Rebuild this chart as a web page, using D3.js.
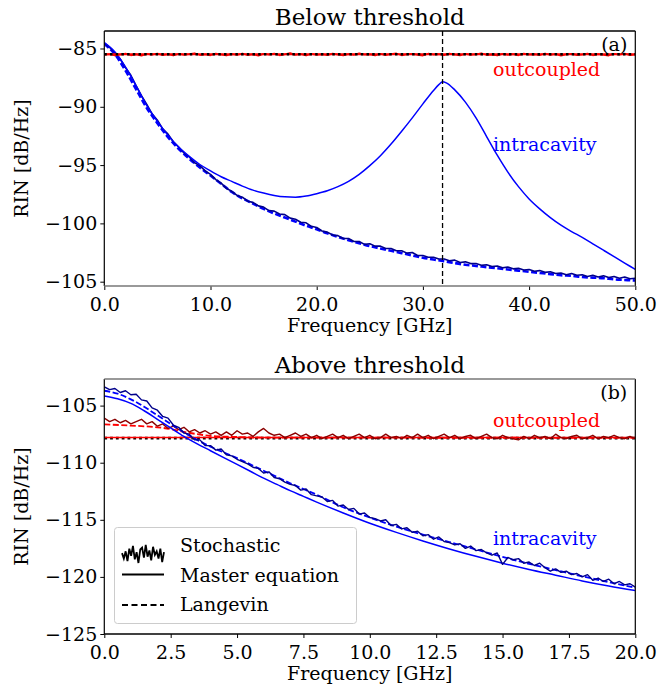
<!DOCTYPE html>
<html>
<head>
<meta charset="utf-8">
<script src="https://cdn.jsdelivr.net/npm/d3@7/dist/d3.min.js"></script>
<style>
  body { margin: 0; background: #fff; }
  svg text { font-family: 'DejaVu Serif', serif; }
</style>
</head>
<body>
<div class="chart"></div>
<script>
let d3 = window.d3;
let w = 659, h = 685;

/* ===== DATA: panel (a) below threshold ===== */

let ticksXA = [0, 10, 20, 30, 40, 50];
let ticksYA = [-105, -100, -95, -90, -85];
let resonanceA = 31.85;   // GHz, dashed vertical marker

// master equation, intracavity [GHz, dB/Hz]
let masterInA = [[0,-84.5],[1,-85.3],[2,-86.6],[3,-88.2],[4,-89.9],[5,-91.25],[6,-92.45],[7,-93.45],[8,-94.25],
  [9,-94.95],[10,-95.5],[11,-96.0],[12,-96.4],[13,-96.8],[14,-97.15],[15,-97.4],[16,-97.6],[17,-97.72],
  [18,-97.75],[19,-97.65],[20,-97.45],[21,-97.2],[22,-96.85],[23,-96.4],[24,-95.8],[25,-95.05],
  [26,-94.2],[27,-93.2],[28,-92.1],[29,-90.95],[30,-89.75],[31,-88.6],[31.5,-88.1],[31.85,-87.86],
  [32.2,-87.95],[33,-88.55],[34,-89.6],[35,-90.95],[36,-92.55],[37,-94.15],[38,-95.6],[39,-96.85],[40,-97.9],
  [41,-98.75],[42,-99.5],[43,-100.15],[44,-100.7],[45,-101.2],[46,-101.75],[47,-102.3],[48,-102.85],
  [49,-103.4],[50,-103.95]];

// Langevin, intracavity
let langevinInA = [[0,-84.6],[1,-85.5],[2,-86.9],[3,-88.5],[4,-90.1],[5,-91.4],[6,-92.6],[7,-93.6],[8,-94.45],
  [9,-95.2],[10,-95.9],[11,-96.6],[12,-97.3],[13,-97.85],[14,-98.3],[15,-98.75],[16,-99.15],[17,-99.5],
  [18,-99.85],[19,-100.2],[20,-100.5],[21,-100.85],[22,-101.15],[23,-101.45],[24,-101.7],[25,-101.95],
  [26,-102.15],[27,-102.35],[28,-102.55],[29,-102.75],[30,-102.95],[31,-103.1],[32,-103.25],[33,-103.4],
  [34,-103.55],[35,-103.65],[36,-103.75],[37,-103.85],[38,-103.95],[39,-104.05],[40,-104.15],[41,-104.25],
  [42,-104.35],[43,-104.45],[44,-104.5],[45,-104.6],[46,-104.65],[47,-104.7],[48,-104.8],[49,-104.85],[50,-104.9]];

// stochastic runs, one value every stepA GHz from 0
let stepA = 0.5;
let stochInA = [-84.55,-84.9,-85.35,-85.9,-86.65,-87.3,-88.2,-89.05,-89.8,-90.6,
  -91.15,-91.9,-92.35,-93.0,-93.45,-93.95,-94.3,-94.8,-95.05,-95.5,
  -95.8,-96.25,-96.55,-97.0,-97.25,-97.6,-97.75,-98.1,-98.2,-98.5,
  -98.6,-98.9,-98.95,-99.2,-99.25,-99.55,-99.65,-99.9,-99.95,-100.25,
  -100.35,-100.65,-100.75,-101.0,-101.05,-101.3,-101.3,-101.55,-101.55,-101.8,
  -101.75,-101.95,-101.95,-102.15,-102.15,-102.35,-102.35,-102.55,-102.5,-102.75,
  -102.75,-102.9,-102.9,-103.05,-103.05,-103.2,-103.15,-103.35,-103.3,-103.45,
  -103.45,-103.6,-103.55,-103.7,-103.65,-103.8,-103.75,-103.9,-103.85,-104.0,
  -103.95,-104.1,-104.05,-104.2,-104.15,-104.3,-104.25,-104.4,-104.3,-104.45,
  -104.4,-104.55,-104.45,-104.6,-104.5,-104.65,-104.55,-104.7,-104.6,-104.75,-104.7];
let stochOutA = [-85.55,-85.48,-85.6,-85.52,-85.45,-85.58,-85.5,-85.62,-85.47,-85.53,
  -85.44,-85.57,-85.51,-85.6,-85.46,-85.55,-85.49,-85.41,-85.56,-85.5,
  -85.58,-85.45,-85.52,-85.6,-85.48,-85.54,-85.43,-85.57,-85.5,-85.62,
  -85.47,-85.53,-85.45,-85.58,-85.51,-85.4,-85.55,-85.49,-85.6,-85.46,
  -85.54,-85.5,-85.57,-85.44,-85.52,-85.59,-85.48,-85.55,-85.42,-85.53,
  -85.5,-85.6,-85.46,-85.56,-85.49,-85.43,-85.58,-85.51,-85.47,-85.55,
  -85.6,-85.45,-85.53,-85.49,-85.57,-85.44,-85.52,-85.58,-85.47,-85.55,
  -85.5,-85.41,-85.56,-85.52,-85.6,-85.46,-85.54,-85.49,-85.58,-85.45,
  -85.53,-85.5,-85.57,-85.43,-85.55,-85.48,-85.61,-85.5,-85.46,-85.56,
  -85.52,-85.44,-85.58,-85.49,-85.54,-85.6,-85.47,-85.53,-85.45,-85.57,-85.52];
let masterOutA = [[0,-85.5],[50,-85.5]];
let shotA = [[0,-85.5],[50,-85.5]];

/* ===== DATA: panel (b) above threshold ===== */

let ticksXB = [0, 2.5, 5, 7.5, 10, 12.5, 15, 17.5, 20];
let ticksYB = [-125, -120, -115, -110, -105];

let masterInB = [[0,-104.15],[0.5,-104.4],[1,-104.8],[1.5,-105.45],[2,-106.2],[2.5,-106.95],[3,-107.7],
  [3.5,-108.35],[4,-108.95],[4.5,-109.55],[5,-110.15],[5.5,-110.75],[6,-111.35],[6.5,-111.9],[7,-112.45],
  [7.5,-112.95],[8,-113.45],[9,-114.4],[10,-115.3],[11,-116.1],[12,-116.85],[13,-117.55],[14,-118.2],
  [15,-118.8],[16,-119.35],[17,-119.85],[18,-120.35],[19,-120.8],[20,-121.2]];
let langevinInB = [[0,-103.7],[0.5,-103.95],[1,-104.45],[1.5,-105.1],[2,-105.85],[2.5,-106.6],[3,-107.35],
  [3.5,-108.0],[4,-108.6],[4.5,-109.1],[5,-109.6],[5.5,-110.15],[6,-110.7],[6.5,-111.25],[7,-111.8],
  [7.5,-112.3],[8,-112.8],[9,-113.9],[10,-114.8],[11,-115.6],[12,-116.3],[13,-116.95],[14,-117.6],
  [15,-118.25],[16,-118.85],[17,-119.4],[18,-119.95],[19,-120.45],[20,-120.95]];
let masterOutB = [[0,-107.8],[20,-107.8]];
let langevinOutB = [[0,-106.65],[1,-106.75],[2,-106.9],[2.5,-107.05],[3,-107.3],[3.5,-107.5],[4,-107.65],
  [5,-107.75],[6,-107.8],[20,-107.82]];
let shotB = [[0,-107.85],[20,-107.85]];

let stepB = 0.2;
let stochInB = [-103.35,-103.6,-103.5,-103.85,-103.7,-104.05,-104.0,-104.5,-104.6,-105.2,
  -105.4,-105.95,-106.1,-106.7,-106.9,-107.4,-107.5,-108.0,-108.0,-108.5,
  -108.5,-108.9,-108.8,-109.3,-109.4,-109.7,-109.9,-110.1,-110.4,-110.5,
  -110.9,-110.8,-111.3,-111.4,-111.7,-111.9,-112.0,-112.4,-112.3,-112.8,
  -112.9,-113.0,-113.4,-113.3,-113.8,-113.7,-114.1,-114.0,-114.5,-114.4,
  -114.8,-114.9,-115.1,-115.0,-115.5,-115.4,-115.8,-115.7,-116.1,-116.0,
  -116.4,-116.3,-116.7,-116.5,-116.9,-117.0,-117.2,-117.1,-117.5,-117.3,
  -117.7,-117.6,-117.9,-118.1,-117.9,-118.9,-118.3,-118.5,-118.4,-118.8,
  -118.7,-119.0,-118.8,-119.2,-119.5,-119.3,-119.6,-119.5,-119.8,-119.7,
  -120.0,-119.8,-120.3,-120.1,-120.4,-120.2,-120.6,-120.4,-120.7,-120.6,-120.9];
let stochOutB = [-106.1,-106.4,-106.2,-106.5,-106.3,-106.6,-106.4,-106.2,-106.6,-106.4,
  -106.8,-106.6,-107.0,-106.8,-107.1,-106.9,-107.3,-107.1,-107.4,-107.2,
  -107.5,-107.3,-107.6,-107.3,-107.6,-107.2,-107.5,-107.4,-107.7,-107.3,
  -107.0,-107.4,-107.6,-107.5,-107.8,-107.6,-107.4,-107.7,-107.5,-107.8,
  -107.6,-107.9,-107.7,-107.5,-107.8,-107.6,-107.9,-107.7,-107.5,-107.8,
  -107.6,-107.9,-107.8,-107.5,-107.8,-107.7,-107.9,-107.6,-107.8,-107.5,
  -107.8,-107.6,-107.9,-107.7,-107.5,-107.8,-107.6,-107.9,-107.7,-107.6,
  -107.9,-107.7,-107.5,-107.8,-107.9,-107.6,-107.8,-107.9,-108.0,-107.7,
  -107.9,-107.6,-107.8,-107.7,-107.9,-107.5,-107.8,-107.9,-107.7,-107.6,
  -107.9,-107.8,-107.6,-107.9,-107.7,-107.8,-107.6,-107.8,-107.9,-107.7,-107.9];

// legend handle for the stochastic runs
let legendNoise = [0.1,-0.5,0.3,-0.8,0.6,-0.2,0.9,-0.6,0.2,-1.0,0.5,0.7,-0.4,1.0,-0.3,0.4,-0.7,0.8,-0.1,0.3,-0.5,0.6,-0.9,0.2];

/* ===== SETUP ===== */

let svg = d3.select('.chart').append('svg').attr('width', w).attr('height', h);
let left = 104.3, right = 635.3;
let blue = '#0000ff', red = '#ff0000', navy = '#00008b', darkred = '#8b0000';

function stepped(values, step) {
  return values.map(function (v, i) { return [i * step, v]; });
}

function buildPanel(p) {
  let x = d3.scaleLinear().domain(p.xDomain).range([left, right]);
  let y = d3.scaleLinear().domain(p.yDomain).range([p.bottom, p.top]);
  let smooth = d3.line().curve(d3.curveMonotoneX)
    .x(function (d) { return x(d[0]); }).y(function (d) { return y(d[1]); });
  let rough = d3.line()
    .x(function (d) { return x(d[0]); }).y(function (d) { return y(d[1]); });

  let g = svg.append('g');
  let clipId = 'clip-' + p.name;
  svg.append('clipPath').attr('id', clipId).append('rect')
    .attr('x', left).attr('y', p.top).attr('width', right - left).attr('height', p.bottom - p.top);

  let plot = g.append('g').attr('clip-path', 'url(#' + clipId + ')');

  p.series.forEach(function (s) {
    plot.append('path')
      .datum(s.data)
      .attr('d', s.noisy ? rough : smooth)
      .attr('fill', 'none')
      .attr('stroke', s.color)
      .attr('stroke-width', s.width)
      .attr('stroke-dasharray', s.dash || null)
      .attr('stroke-linejoin', 'round');
  });

  if (p.marker !== undefined) {
    plot.append('line')
      .attr('x1', x(p.marker)).attr('x2', x(p.marker))
      .attr('y1', p.top).attr('y2', p.bottom)
      .attr('stroke', '#000').attr('stroke-width', 1.3)
      .attr('stroke-dasharray', '5,3');
  }

  /* ==== AXES ==== */
  let xAxis = d3.axisBottom(x).tickValues(p.xTicks).tickFormat(d3.format('.1f'))
    .tickSize(4).tickPadding(3);
  let yAxis = d3.axisLeft(y).tickValues(p.yTicks).tickFormat(d3.format('d'))
    .tickSize(4).tickPadding(3);

  let gx = g.append('g').attr('transform', 'translate(0,' + p.bottom + ')').call(xAxis);
  let gy = g.append('g').attr('transform', 'translate(' + left + ',0)').call(yAxis);
  [gx, gy].forEach(function (a) {
    a.select('.domain').remove();
    a.selectAll('.tick line').attr('stroke', '#000').attr('stroke-width', 1);
    a.selectAll('.tick text').attr('fill', '#000').style('font-size', '19px')
      .style('font-family', "'DejaVu Serif', serif");
  });
  gx.selectAll('.tick text').attr('dy', '0.95em');

  // spines
  g.append('line').attr('x1', left).attr('x2', left).attr('y1', p.top).attr('y2', p.bottom)
    .attr('stroke', '#000').attr('stroke-width', 1.2);
  g.append('line').attr('x1', right).attr('x2', right).attr('y1', p.top).attr('y2', p.bottom)
    .attr('stroke', '#000').attr('stroke-width', 1.2);
  g.append('line').attr('x1', left).attr('x2', right).attr('y1', p.top).attr('y2', p.top)
    .attr('stroke', p.topSpine).attr('stroke-width', 1.4);
  g.append('line').attr('x1', left).attr('x2', right).attr('y1', p.bottom).attr('y2', p.bottom)
    .attr('stroke', p.bottomSpine).attr('stroke-width', 1.4);

  /* ==== LABELS ==== */
  g.append('text').text(p.title)
    .attr('x', (left + right) / 2).attr('y', p.top - 6)
    .attr('text-anchor', 'middle').style('font-size', '23px');
  g.append('text').text('Frequency [GHz]')
    .attr('x', (left + right) / 2).attr('y', p.bottom + 46)
    .attr('text-anchor', 'middle').style('font-size', '19px');
  g.append('text').text('RIN [dB/Hz]')
    .attr('transform', 'translate(28,' + ((p.top + p.bottom) / 2) + ') rotate(-90)')
    .attr('text-anchor', 'middle').style('font-size', '19px');
  g.append('text').text(p.tag)
    .attr('x', right - 8).attr('y', p.top + 20)
    .attr('text-anchor', 'end').style('font-size', '19px');
  g.append('text').text('outcoupled')
    .attr('x', 493).attr('y', p.outLabelY)
    .attr('fill', red).style('font-size', '19px');
  g.append('text').text('intracavity')
    .attr('x', 493).attr('y', p.inLabelY)
    .attr('fill', blue).style('font-size', '19px');
}

buildPanel({
  name: 'a', title: 'Below threshold', tag: '(a)',
  top: 31, bottom: 286, xDomain: [0, 50], yDomain: [-105.37, -83.5],
  xTicks: ticksXA, yTicks: ticksYA, marker: resonanceA,
  topSpine: '#000', bottomSpine: '#777',
  outLabelY: 76, inLabelY: 151,
  series: [
    { data: langevinInA, color: blue, width: 2.6, dash: '6,2.5' },
    { data: stepped(stochInA, stepA), color: navy, width: 1.6, noisy: true },
    { data: masterInA, color: blue, width: 1.5 },
    { data: masterOutA, color: red, width: 2 },
    { data: stepped(stochOutA, stepA), color: red, width: 1.8, noisy: true },
    { data: shotA, color: '#000', width: 2.5, dash: '2.5,3.2' }
  ]
});

buildPanel({
  name: 'b', title: 'Above threshold', tag: '(b)',
  top: 379, bottom: 634, xDomain: [0, 20], yDomain: [-125, -102.67],
  xTicks: ticksXB, yTicks: ticksYB,
  topSpine: '#777', bottomSpine: '#000',
  outLabelY: 427, inLabelY: 545,
  series: [
    { data: shotB, color: '#000', width: 2.8, dash: '2.8,3' },
    { data: masterOutB, color: red, width: 1.5 },
    { data: langevinOutB, color: red, width: 1.8, dash: '6,2.5' },
    { data: stepped(stochOutB, stepB), color: darkred, width: 1.4, noisy: true },
    { data: masterInB, color: blue, width: 1.5 },
    { data: langevinInB, color: blue, width: 1.8, dash: '6,2.5' },
    { data: stepped(stochInB, stepB), color: navy, width: 1.4, noisy: true }
  ]
});

/* ===== LEGEND ===== */

let legend = svg.append('g');
legend.append('rect')
  .attr('x', 114.5).attr('y', 527.5).attr('width', 242).attr('height', 96).attr('rx', 3)
  .attr('fill', '#fff').attr('fill-opacity', 0.8).attr('stroke', '#ccc').attr('stroke-width', 1);

let lx = d3.scaleLinear().domain([0, legendNoise.length - 1]).range([122, 164]);
let ly = d3.scaleLinear().domain([-1, 1]).range([563, 545]);
legend.append('path')
  .datum(legendNoise)
  .attr('d', d3.line().x(function (d, i) { return lx(i); }).y(function (d) { return ly(d); }))
  .attr('fill', 'none').attr('stroke', '#000').attr('stroke-width', 1.8);
legend.append('line').attr('x1', 122).attr('x2', 164).attr('y1', 574.5).attr('y2', 574.5)
  .attr('stroke', '#000').attr('stroke-width', 1.8);
legend.append('line').attr('x1', 122).attr('x2', 164).attr('y1', 605).attr('y2', 605)
  .attr('stroke', '#000').attr('stroke-width', 1.8).attr('stroke-dasharray', '6,3.5');

let legendLabels = ['Stochastic', 'Master equation', 'Langevin'];
let legendBase = [552, 582, 611];
legendLabels.forEach(function (t, i) {
  legend.append('text').text(t).attr('x', 180).attr('y', legendBase[i]).style('font-size', '19px');
});
</script>
</body>
</html>
